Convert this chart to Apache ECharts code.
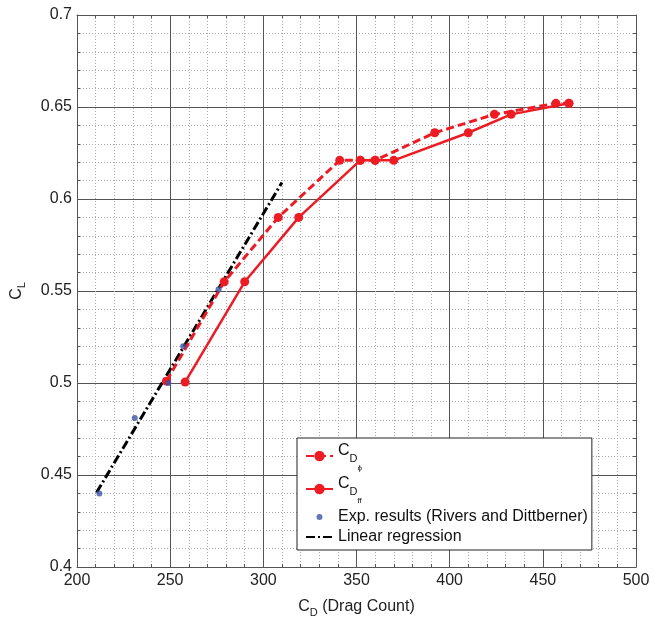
<!DOCTYPE html>
<html>
<head>
<meta charset="utf-8">
<script src="https://cdn.jsdelivr.net/npm/echarts@6/dist/echarts.min.js"></script>
<style>html,body{margin:0;padding:0;background:#fff;}#c{width:661px;height:623px;}</style>
</head>
<body>
<div id="c"></div>
<script>
// ---- data ----
var xTicks = [200, 250, 300, 350, 400, 450, 500];
var yTicks = [0.4, 0.45, 0.5, 0.55, 0.6, 0.65, 0.7];

var cdPhiX = [248, 279, 308, 341, 352, 360, 392, 424, 457, 464];
var cdPhiY = [0.501, 0.555, 0.590, 0.621, 0.621, 0.621, 0.636, 0.646, 0.652, 0.652];

var cdFfX = [258, 290, 319, 352, 360, 370, 410, 433, 464];
var cdFfY = [0.5005, 0.555, 0.590, 0.621, 0.621, 0.621, 0.636, 0.646, 0.652];

var expX = [212, 231, 249, 257, 276];
var expY = [0.440, 0.481, 0.500, 0.520, 0.551];

var regX = [210.5, 310];
var regY = [0.4405, 0.609];

function zip(a, b) { return a.map(function (v, i) { return [v, b[i]]; }); }

var FONT = "'Liberation Sans', Arial, Helvetica, sans-serif";
var RED = '#ed1c24';
var BLUE = '#3b53a4';

var chart = echarts.init(document.getElementById('c'), null, {renderer: 'canvas'});

var legendNames = {
  CDphi: '{c|C}{d|D}{p|\u03d5}',
  CDff: '{c|C}{d|D}{p|ff}',
  Exp: 'Exp. results (Rivers and Dittberner)',
  Reg: 'Linear regression'
};

function mkX(pos, showLabel) {
  return {
    type: 'value', position: pos, min: xTicks[0], max: xTicks[xTicks.length - 1], interval: 50,
    axisLine: {show: true, onZero: false, lineStyle: {color: '#555', width: 1}},
    axisTick: {show: true, inside: true, length: 5, lineStyle: {color: '#555'}},
    minorTick: {show: true, splitNumber: 5, length: 3, lineStyle: {color: '#555'}},
    axisLabel: {show: showLabel, fontFamily: FONT, fontSize: 16, color: '#222', margin: 6},
    splitLine: {show: showLabel, lineStyle: {color: '#555', width: 1}},
    minorSplitLine: {show: showLabel, lineStyle: {color: '#aaa', width: 1, type: [1, 2]}}
  };
}
function mkY(pos, showLabel) {
  return {
    type: 'value', position: pos, min: yTicks[0], max: yTicks[yTicks.length - 1], interval: 0.05,
    axisLine: {show: true, onZero: false, lineStyle: {color: '#555', width: 1}},
    axisTick: {show: true, inside: true, length: 5, lineStyle: {color: '#555'}},
    minorTick: {show: true, splitNumber: 5, length: 3, lineStyle: {color: '#555'}},
    axisLabel: {show: showLabel, fontFamily: FONT, fontSize: 16, color: '#222', margin: 5},
    splitLine: {show: showLabel, lineStyle: {color: '#555', width: 1}},
    minorSplitLine: {show: showLabel, lineStyle: {color: '#aaa', width: 1, type: [1, 2]}}
  };
}

var xb = mkX('bottom', true);
xb.name = '{c|C}{s|D}{c| (Drag Count)}';
xb.nameLocation = 'middle';
xb.nameGap = 28;
xb.nameTextStyle = {fontFamily: FONT, fontSize: 16, color: '#222',
  rich: {c: {fontFamily: FONT, fontSize: 16, color: '#222'},
         s: {fontFamily: FONT, fontSize: 11, color: '#222', padding: [12, 0, 0, 0]}}};
var yl = mkY('left', true);
yl.name = '{c|C}{s|L}';
yl.nameLocation = 'middle';
yl.nameGap = 50;
yl.nameTextStyle = {fontFamily: FONT, fontSize: 16, color: '#222',
  rich: {c: {fontFamily: FONT, fontSize: 16, color: '#222'},
         s: {fontFamily: FONT, fontSize: 11, color: '#222', padding: [10, 0, 0, 0]}}};

var option = {
  backgroundColor: '#fff',
  animation: false,
  grid: {left: 77, right: 25, top: 15, bottom: 53, containLabel: false},
  xAxis: [xb, mkX('top', false)],
  yAxis: [yl, mkY('right', false)],
  legend: {
    orient: 'vertical', left: 297, top: 438,
    itemWidth: 27, itemHeight: 13, itemGap: 4,
    padding: [5, 4, 5, 8],
    borderColor: '#222', borderWidth: 1, backgroundColor: '#fff',
    textStyle: {fontFamily: FONT, fontSize: 16, color: '#111',
      rich: {
        c: {fontFamily: FONT, fontSize: 16, color: '#111', padding: [0, 0, 10, 0]},
        d: {fontFamily: FONT, fontSize: 11, color: '#111', padding: [6, 0, 0, 0]},
        p: {fontFamily: FONT, fontSize: 8, color: '#111', padding: [24, 0, 0, 0]}
      }},
    formatter: function (n) { return legendNames[n]; },
    data: [
      {name: 'CDphi'},
      {name: 'CDff'},
      {name: 'Exp', icon: 'path://M0,0L0.01,0M27,13L26.99,13M10.5,6.5A3,3,0,1,1,16.5,6.5A3,3,0,1,1,10.5,6.5Z'},
      {name: 'Reg', itemStyle: {opacity: 0}}
    ]
  },
  series: [
    {name: 'Reg', type: 'line', data: zip(regX, regY), symbol: 'none', z: 3,
     lineStyle: {color: '#000', width: 3, type: [9, 3, 2, 3]}, itemStyle: {color: '#000'}},
    {name: 'CDphi', type: 'line', data: zip(cdPhiX, cdPhiY), symbol: 'circle', symbolSize: 9, z: 4,
     lineStyle: {color: RED, width: 3, type: [8, 4]}, itemStyle: {color: RED}},
    {name: 'CDff', type: 'line', data: zip(cdFfX, cdFfY), symbol: 'circle', symbolSize: 9, z: 4,
     lineStyle: {color: RED, width: 2.5}, itemStyle: {color: RED}},
    {name: 'Exp', type: 'scatter', data: zip(expX, expY), symbol: 'circle', symbolSize: 6, z: 5,
     itemStyle: {color: BLUE}}
  ]
};
chart.setOption(option);
</script>
</body>
</html>
